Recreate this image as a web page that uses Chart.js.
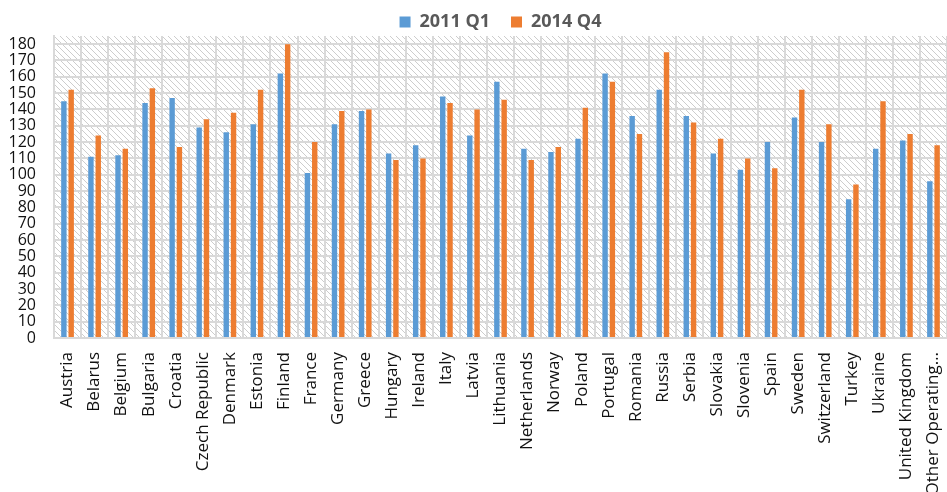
<!DOCTYPE html>
<html>
<head>
<meta charset="utf-8">
<script src="https://cdn.jsdelivr.net/npm/chart.js@4.4.1/dist/chart.umd.min.js"></script>
<style>
  html, body { margin: 0; padding: 0; background: #fff; }
  #wrap { width: 947px; height: 492px; }
</style>
</head>
<body>
<div id="wrap"><canvas id="indexChart"></canvas></div>
<script>
// categories and series
const countries = ['Austria', 'Belarus', 'Belgium', 'Bulgaria', 'Croatia', 'Czech Republic', 'Denmark',
  'Estonia', 'Finland', 'France', 'Germany', 'Greece', 'Hungary', 'Ireland', 'Italy', 'Latvia',
  'Lithuania', 'Netherlands', 'Norway', 'Poland', 'Portugal', 'Romania', 'Russia', 'Serbia',
  'Slovakia', 'Slovenia', 'Spain', 'Sweden', 'Switzerland', 'Turkey', 'Ukraine', 'United Kingdom',
  'Other Operating…'];
const q1_2011 = [145, 111, 112, 144, 147, 129, 126, 131, 162, 101, 131, 139, 113, 118, 148, 124,
  157, 116, 114, 122, 162, 136, 152, 136, 113, 103, 120, 135, 120, 85, 116, 121, 96];
const q4_2014 = [152, 124, 116, 153, 117, 134, 138, 152, 180, 120, 139, 140, 109, 110, 144, 140,
  146, 109, 117, 141, 157, 125, 175, 132, 122, 110, 104, 152, 131, 94, 145, 125, 118];
const seriesNames = ['2011 Q1', '2014 Q4'];
const yStep = 10;   // labels 0, 10, ... 180
const yMax = 185;   // plot runs a little above the last label

// hatched plot background
const tile = document.createElement('canvas');
tile.width = tile.height = 6;
const tg = tile.getContext('2d');
tg.fillStyle = '#ffffff';
tg.fillRect(0, 0, 6, 6);
tg.strokeStyle = '#cdcdcd';
tg.lineWidth = 1;
tg.beginPath();
tg.moveTo(0, 0); tg.lineTo(6, 6);
tg.stroke();

const hatchBg = {
  id: 'hatchBg',
  beforeDraw(chart) {
    const { ctx, chartArea: a } = chart;
    ctx.save();
    ctx.fillStyle = ctx.createPattern(tile, 'repeat');
    ctx.fillRect(a.left, a.top, a.right - a.left, a.bottom - a.top);
    ctx.restore();
  }
};

const gridGrey = '#d9d9d9';
const font = 'Open Sans';

new Chart(document.getElementById('indexChart'), {
  type: 'bar',
  data: {
    labels: countries,
    datasets: [{
      label: seriesNames[0],
      data: q1_2011,
      backgroundColor: '#5b9bd5',
      categoryPercentage: 0.54,
      barPercentage: 0.74
    }, {
      label: seriesNames[1],
      data: q4_2014,
      backgroundColor: '#ed7d31',
      categoryPercentage: 0.54,
      barPercentage: 0.74
    }]
  },
  options: {
    responsive: true,
    maintainAspectRatio: false,
    animation: false,
    layout: { padding: { left: 0, right: 0, top: -8, bottom: 0 } },
    plugins: {
      legend: {
        position: 'top',
        fullSize: false,
        maxHeight: 44,
        labels: {
          boxWidth: 11,
          boxHeight: 11,
          padding: 21,
          color: '#595959',
          font: { family: font, size: 18, weight: 'bold' }
        }
      },
      tooltip: { enabled: false }
    },
    scales: {
      x: {
        grid: { color: gridGrey, lineWidth: 2, drawTicks: false, offset: true },
        border: { color: gridGrey, width: 2 },
        ticks: {
          autoSkip: false,
          minRotation: 90,
          maxRotation: 90,
          padding: 14,
          color: '#111',
          font: { family: font, size: 17 }
        },
        // let the plot run to the right edge and the long label run off the bottom
        afterFit: s => { s.paddingRight = 0; s.paddingLeft = 0; s.height = 154; }
      },
      y: {
        min: 0,
        max: yMax,
        afterFit: s => { s.width = 54; },
        grid: { color: gridGrey, lineWidth: 2, drawTicks: false },
        border: { color: gridGrey, width: 2 },
        ticks: {
          autoSkip: false,
          stepSize: yStep,
          includeBounds: false,
          padding: 18,
          color: '#111',
          font: { family: font, size: 16 }
        }
      }
    }
  },
  plugins: [hatchBg]
});
</script>
</body>
</html>
